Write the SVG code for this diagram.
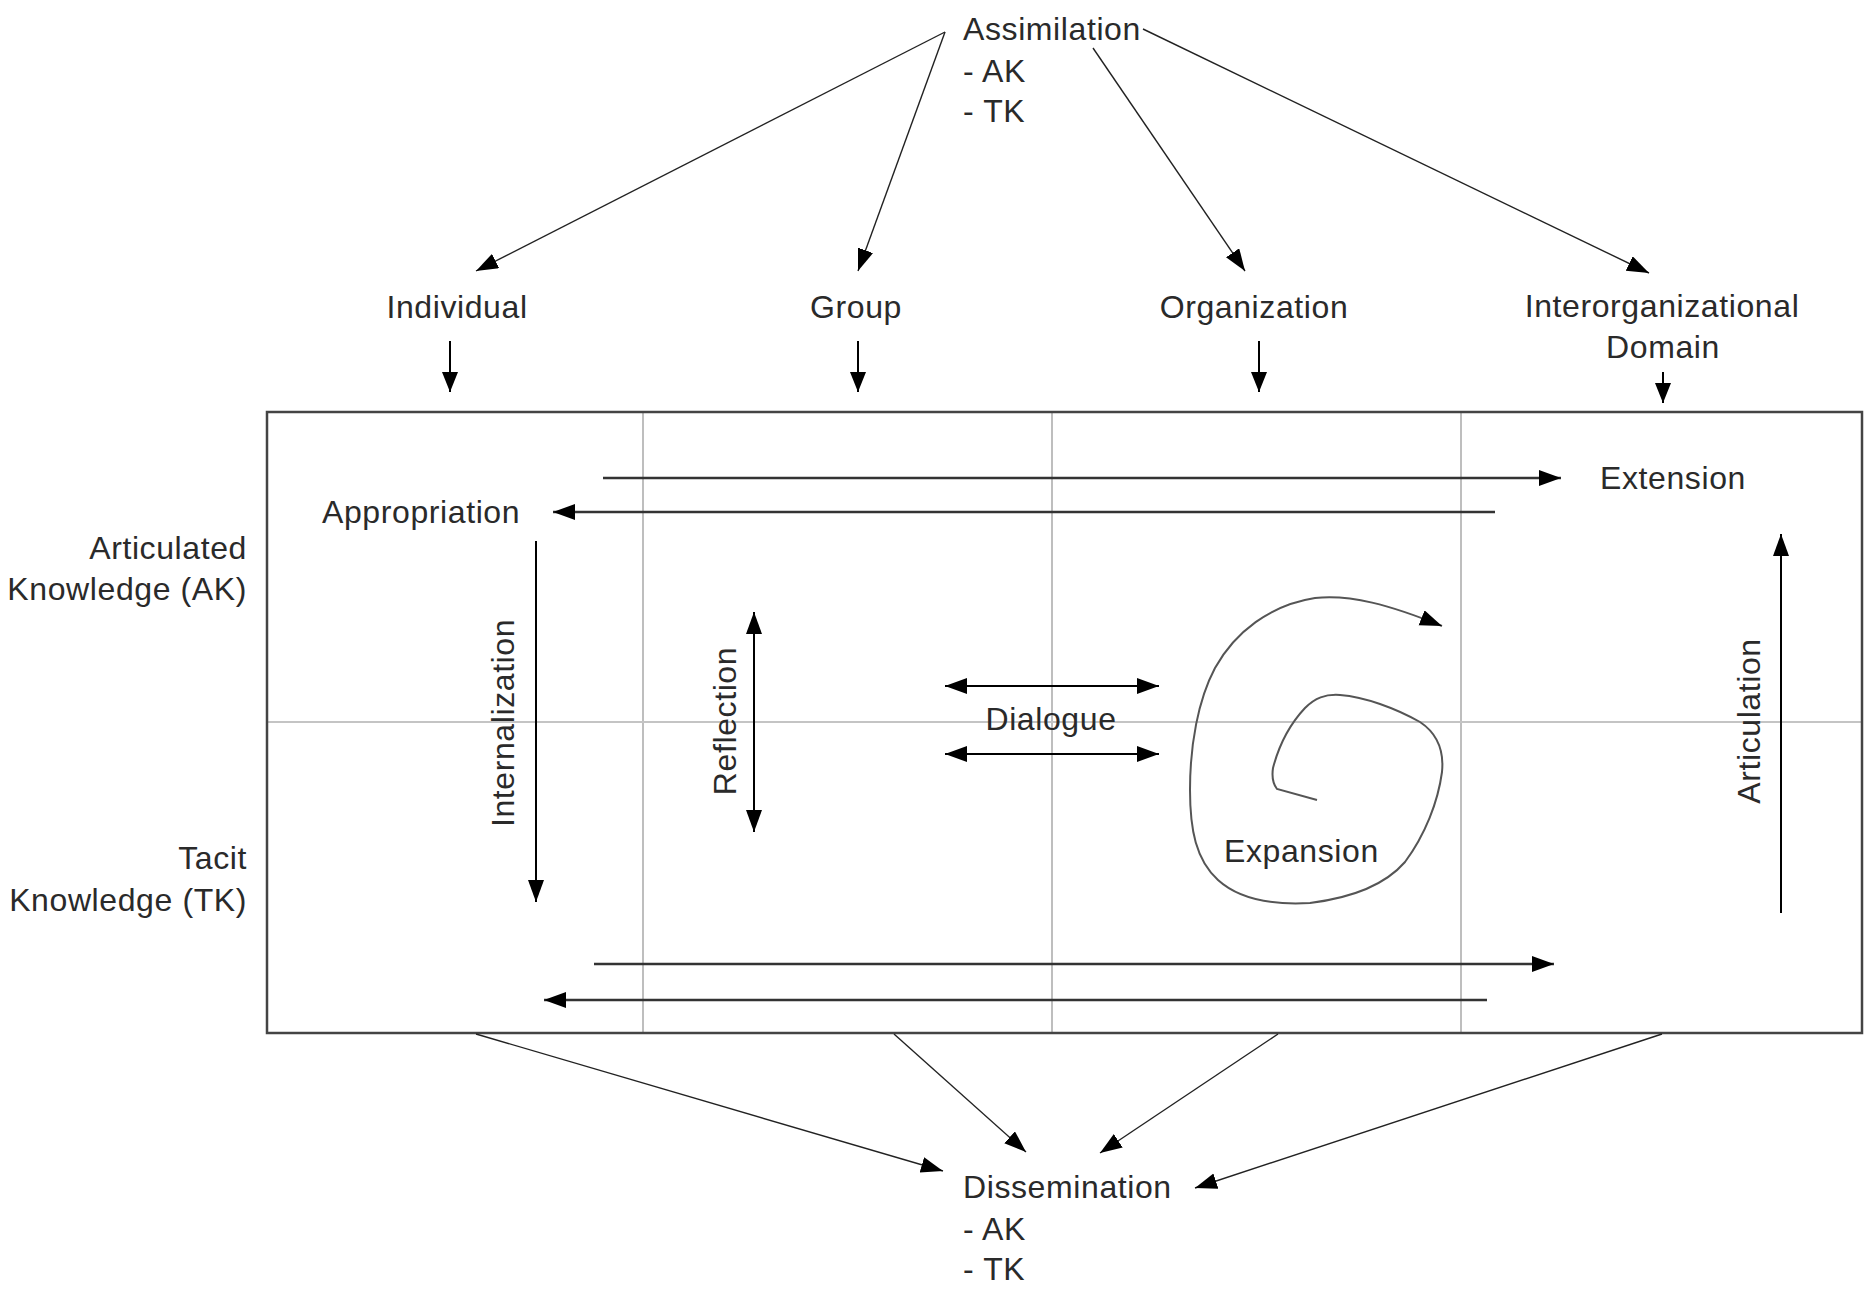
<svg xmlns="http://www.w3.org/2000/svg" width="1864" height="1297" viewBox="0 0 1864 1297">
<defs>
<marker id="ah" markerUnits="userSpaceOnUse" markerWidth="24" markerHeight="18" refX="22" refY="8" orient="auto-start-reverse" viewBox="0 0 24 18">
<path d="M0,0 L22,8 L0,16 z" fill="#000"/>
</marker>
<marker id="ahs" markerUnits="userSpaceOnUse" markerWidth="20" markerHeight="18" refX="20" refY="8" orient="auto" viewBox="0 0 20 18">
<path d="M0,0 L20,8 L0,16 z" fill="#000"/>
</marker>
<style>
text{font-family:"Liberation Sans",Arial,sans-serif;font-size:32px;fill:#2a2a2a;letter-spacing:0.6px}
.mid{text-anchor:middle}
.end{text-anchor:end}
.diag{stroke:#222;stroke-width:1.4;fill:none}
.arr{stroke:#333;stroke-width:2.6;fill:none}
.blk{stroke:#000;stroke-width:2;fill:none}
.grid{stroke:#a8a8a8;stroke-width:1.5}
</style>
</defs>
<rect width="1864" height="1297" fill="#fff"/>

<g id="frame">
<line class="grid" x1="643" y1="411" x2="643" y2="1033"/>
<line class="grid" x1="1052" y1="411" x2="1052" y2="1033"/>
<line class="grid" x1="1461" y1="411" x2="1461" y2="1033"/>
<line x1="266" y1="722" x2="1862" y2="722" stroke="#c4c4c4" stroke-width="2"/>
<rect x="267" y="412" width="1595" height="621" fill="none" stroke="#444" stroke-width="2.5"/>
</g>

<g id="assimilation">
<text x="963" y="40">Assimilation</text>
<text x="963" y="82">- AK</text>
<text x="963" y="122">- TK</text>
</g>
<g id="individual"><text class="mid" x="457" y="318">Individual</text></g>
<g id="group"><text class="mid" x="856" y="318">Group</text></g>
<g id="organization"><text class="mid" x="1254" y="318">Organization</text></g>
<g id="interorganizational"><text class="mid" x="1662" y="317">Interorganizational</text><text class="mid" x="1663" y="358">Domain</text></g>
<g id="articulated"><text class="end" x="247" y="559">Articulated</text><text class="end" x="247" y="600">Knowledge (AK)</text></g>
<g id="tacit"><text class="end" x="247" y="869">Tacit</text><text class="end" x="247" y="911">Knowledge (TK)</text></g>
<g id="appropriation"><text x="322" y="523">Appropriation</text></g>
<g id="extension"><text x="1600" y="489">Extension</text></g>
<g id="internalization"><text class="mid" transform="translate(514,723) rotate(-90)">Internalization</text></g>
<g id="reflection"><text class="mid" transform="translate(736,721) rotate(-90)">Reflection</text></g>
<g id="dialogue"><text class="mid" x="1051" y="730">Dialogue</text></g>
<g id="expansion"><text x="1224" y="862">Expansion</text></g>
<g id="articulation"><text class="mid" transform="translate(1760,721) rotate(-90)">Articulation</text></g>
<g id="dissemination">
<text x="963" y="1198">Dissemination</text>
<text x="963" y="1240">- AK</text>
<text x="963" y="1280">- TK</text>
</g>

<g id="connectors">
<line class="diag" x1="945" y1="32" x2="476" y2="271" marker-end="url(#ah)"/>
<line class="diag" x1="945" y1="32" x2="858" y2="271" marker-end="url(#ah)"/>
<line class="diag" x1="1093" y1="48" x2="1245" y2="271" marker-end="url(#ah)"/>
<line class="diag" x1="1143" y1="29" x2="1649" y2="273" marker-end="url(#ah)"/>

<line class="blk" x1="450" y1="341" x2="450" y2="392" marker-end="url(#ahs)"/>
<line class="blk" x1="858" y1="341" x2="858" y2="392" marker-end="url(#ahs)"/>
<line class="blk" x1="1259" y1="341" x2="1259" y2="392" marker-end="url(#ahs)"/>
<line class="blk" x1="1663" y1="372" x2="1663" y2="403" marker-end="url(#ahs)"/>

<line class="arr" x1="603" y1="478" x2="1561" y2="478" marker-end="url(#ah)"/>
<line class="arr" x1="1495" y1="512" x2="553" y2="512" marker-end="url(#ah)"/>
<line class="blk" x1="536" y1="541" x2="536" y2="902" marker-end="url(#ah)"/>
<line class="blk" x1="754" y1="612" x2="754" y2="832" marker-start="url(#ah)" marker-end="url(#ah)"/>
<line class="blk" x1="945" y1="686" x2="1159" y2="686" marker-start="url(#ah)" marker-end="url(#ah)"/>
<line class="blk" x1="945" y1="754" x2="1159" y2="754" marker-start="url(#ah)" marker-end="url(#ah)"/>
<line class="blk" x1="1781" y1="913" x2="1781" y2="534" marker-end="url(#ah)"/>
<path d="M1317,800 L1277,789 Q1271,781 1273,768 C1279,745 1290,724 1305,708 C1315,698 1325,694 1340,695 C1365,697 1395,708 1420,722 C1438,734 1444,752 1442,772 C1438,802 1425,835 1405,862 C1385,885 1350,898 1310,903 C1275,905 1240,900 1218,880 C1196,860 1190,830 1190,790 C1190,745 1198,700 1215,668 C1235,632 1270,605 1315,598 C1350,594 1390,605 1442,626" fill="none" stroke="#555" stroke-width="2" marker-end="url(#ah)"/>

<line class="arr" x1="594" y1="964" x2="1554" y2="964" marker-end="url(#ah)"/>
<line class="arr" x1="1487" y1="1000" x2="544" y2="1000" marker-end="url(#ah)"/>

<line class="diag" x1="476" y1="1034" x2="943" y2="1171" marker-end="url(#ah)"/>
<line class="diag" x1="894" y1="1034" x2="1026" y2="1152" marker-end="url(#ah)"/>
<line class="diag" x1="1278" y1="1034" x2="1100" y2="1153" marker-end="url(#ah)"/>
<line class="diag" x1="1662" y1="1034" x2="1195" y2="1188" marker-end="url(#ah)"/>
</g>
</svg>
